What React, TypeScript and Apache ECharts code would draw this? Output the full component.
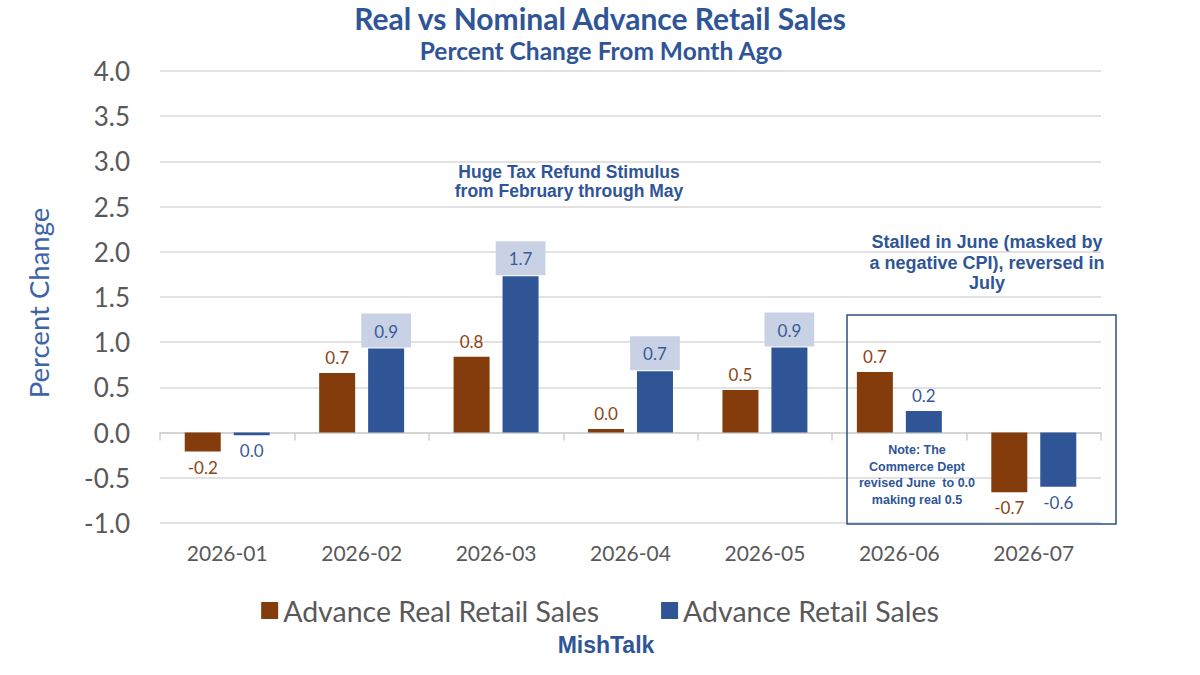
import React, { useEffect, useRef } from "react";
import * as echarts from "echarts";

const categories = ["2026-01", "2026-02", "2026-03", "2026-04", "2026-05", "2026-06", "2026-07"];
const realSales = [-0.21, 0.66, 0.84, 0.04, 0.47, 0.67, -0.66];
const nominalSales = [-0.03, 0.93, 1.73, 0.68, 0.94, 0.24, -0.6];
const highlighted = [false, true, true, true, true, false, false];
const yTicks = { min: -1, max: 4, interval: 0.5 };
const seriesNames = ["Advance Real Retail Sales", "Advance Retail Sales"];

const BROWN = "#843c0c";
const BLUE = "#2f5597";
const TEXT_BLUE = "#2f5597";
const GRAY = "#595959";
const FONT = "Lato, 'Open Sans', sans-serif";
const BOLD_FONT = "'Liberation Sans', Arial, sans-serif";

const fmt = (v: number) => {
  const s = v.toFixed(1);
  return s === "-0.0" ? "0.0" : s;
};

export default function App() {
  const ref = useRef<HTMLDivElement>(null);
  useEffect(() => {
    if (!ref.current) return;
    const chart = echarts.init(ref.current, undefined, { renderer: "svg" });
    const realData = realSales.map((v) => ({
      value: v,
      label: { position: v < 0 ? "bottom" : "top" },
    }));
    const nominalData = nominalSales.map((v, i) => ({
      value: v,
      label: highlighted[i]
        ? {
            position: "top",
            distance: 1,
            backgroundColor: "#c8d2e4",
            padding: [9, 13, 8, 13],
          }
        : { position: v < 0 ? "bottom" : "top" },
    }));
    chart.setOption({
      animation: false,
      backgroundColor: "#ffffff",
      legend: {
        data: seriesNames,
        left: "center",
        top: 591,
        icon: "rect",
        itemWidth: 17,
        itemHeight: 17,
        itemGap: 62,
        textStyle: { fontFamily: FONT, fontSize: 28.5, color: GRAY },
      },
      grid: { left: 160, right: 99, top: 71, bottom: 152, containLabel: false },
      xAxis: [
        {
          type: "category",
          data: categories,
          position: "bottom",
          axisLine: { show: false },
          axisTick: { show: false },
          axisLabel: { fontFamily: FONT, fontSize: 21, color: GRAY, margin: 19 },
        },
        {
          type: "category",
          data: categories,
          position: "bottom",
          axisLine: { show: true, onZero: true, onZeroAxisIndex: 0, lineStyle: { color: "#d0d0d0", width: 1.5 } },
          axisTick: { show: true, length: 8, lineStyle: { color: "#d0d0d0", width: 1.5 } },
          axisLabel: { show: false },
          splitLine: { show: false },
        },
      ],
      yAxis: {
        type: "value",
        min: yTicks.min,
        max: yTicks.max,
        interval: yTicks.interval,
        axisLine: { show: false },
        axisTick: { show: false },
        axisLabel: {
          fontFamily: FONT,
          fontSize: 26,
          color: GRAY,
          margin: 30,
          formatter: (v: number) => v.toFixed(1),
        },
        splitLine: { lineStyle: { color: "#d9d9d9", width: 1.5 } },
      },
      series: [
        {
          name: seriesNames[0],
          type: "bar",
          data: realData,
          barWidth: 36,
          barGap: "36%",
          itemStyle: { color: BROWN },
          label: {
            show: true,
            distance: 7,
            fontFamily: FONT,
            fontSize: 17,
            color: "#8b4513",
            formatter: (p: any) => fmt(p.value),
          },
        },
        {
          name: seriesNames[1],
          type: "bar",
          data: nominalData,
          barWidth: 36,
          itemStyle: { color: BLUE },
          label: {
            show: true,
            distance: 7,
            fontFamily: FONT,
            fontSize: 17,
            color: "#3a5a9a",
            formatter: (p: any) => fmt(p.value),
          },
        },
      ],
      graphic: [
        {
          type: "text",
          x: 600,
          y: 18,
          style: {
            text: "Real vs Nominal Advance Retail Sales",
            fontFamily: FONT,
            fontSize: 30,
            fontWeight: "bold",
            fill: TEXT_BLUE,
            textAlign: "center",
            textVerticalAlign: "middle",
          },
        },
        {
          type: "text",
          x: 601,
          y: 50,
          style: {
            text: "Percent Change From Month Ago",
            fontFamily: FONT,
            fontSize: 24.5,
            fontWeight: "bold",
            fill: TEXT_BLUE,
            textAlign: "center",
            textVerticalAlign: "middle",
          },
        },
        {
          type: "text",
          x: 38,
          y: 303,
          rotation: Math.PI / 2,
          style: {
            text: "Percent Change",
            fontFamily: FONT,
            fontSize: 27.5,
            fill: "#3e64a8",
            textAlign: "center",
            textVerticalAlign: "middle",
          },
        },
        {
          type: "text",
          x: 569,
          y: 181.5,
          style: {
            text: "Huge Tax Refund Stimulus\nfrom February through May",
            fontFamily: BOLD_FONT,
            fontSize: 17.5,
            fontWeight: "bold",
            fill: TEXT_BLUE,
            textAlign: "center",
            textVerticalAlign: "middle",
            lineHeight: 19.5,
          },
        },
        {
          type: "text",
          x: 987,
          y: 262.5,
          style: {
            text: "Stalled in June (masked by\na negative CPI), reversed in\nJuly",
            fontFamily: BOLD_FONT,
            fontSize: 18,
            fontWeight: "bold",
            fill: TEXT_BLUE,
            textAlign: "center",
            textVerticalAlign: "middle",
            lineHeight: 20.5,
          },
        },
        {
          type: "rect",
          shape: { x: 847, y: 315, width: 269, height: 209 },
          style: { fill: "none", stroke: "#2f4f7f", lineWidth: 1.5 },
          z: 10,
        },
        {
          type: "text",
          x: 917,
          y: 475,
          style: {
            text: "Note: The\nCommerce Dept\nrevised June  to 0.0\nmaking real 0.5",
            fontFamily: BOLD_FONT,
            fontSize: 12.5,
            fontWeight: "bold",
            fill: TEXT_BLUE,
            textAlign: "center",
            textVerticalAlign: "middle",
            lineHeight: 16.5,
          },
          z: 10,
        },
        {
          type: "text",
          x: 606,
          y: 645,
          style: {
            text: "MishTalk",
            fontFamily: BOLD_FONT,
            fontSize: 23,
            fontWeight: "bold",
            fill: TEXT_BLUE,
            textAlign: "center",
            textVerticalAlign: "middle",
          },
        },
      ],
    });
    return () => chart.dispose();
  }, []);
  return (
    <div
      ref={ref}
      style={{ position: "fixed", left: 0, top: 0, width: 1200, height: 675 }}
    />
  );
}
